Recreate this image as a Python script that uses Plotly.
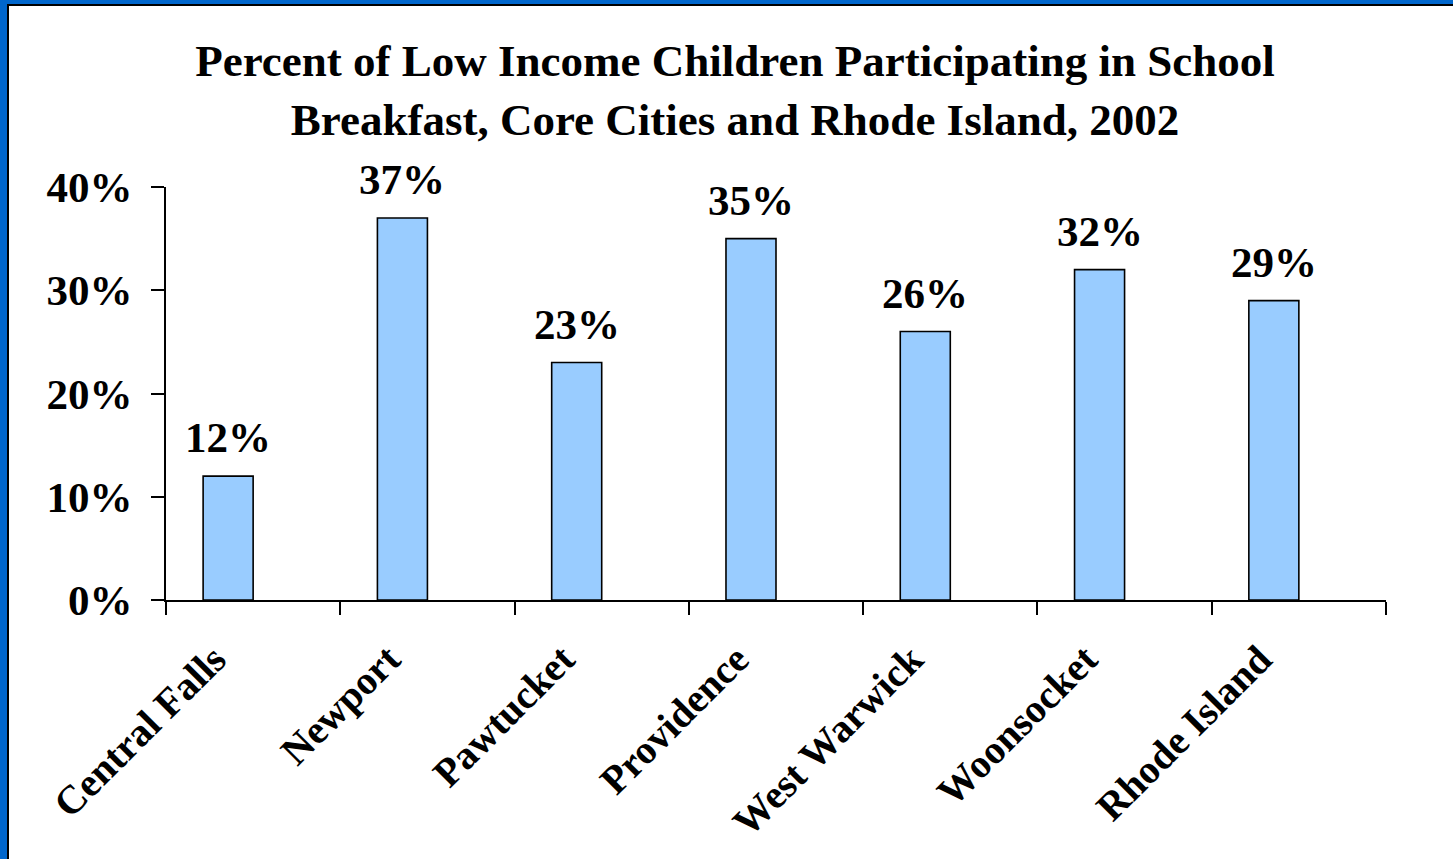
import plotly.graph_objects as go

categories = ["Central Falls", "Newport", "Pawtucket", "Providence", "West Warwick", "Woonsocket", "Rhode Island"]
values = [12, 37, 23, 35, 26, 32, 29]
y_ticks = [0, 10, 20, 30, 40]
y_tick_labels = ["0%", "10%", "20%", "30%", "40%"]
title_text = "Percent of Low Income Children Participating in School<br>Breakfast, Core Cities and Rhode Island, 2002"

W, H = 1453, 859
L, R, T, B = 166, 1386, 187, 600
FONT = "Liberation Serif"
BAR_W = 0.287

def px(x):
    return (x - L) / (R - L)

def py(y):
    return (B - y) / (B - T)

fig = go.Figure()
fig.add_trace(go.Bar(
    x=categories, y=values,
    width=BAR_W, offset=-BAR_W,
    marker=dict(color="#99CCFF", line=dict(color="black", width=1.6)),
    cliponaxis=False,
))

cat_px = (R - L) / len(categories)
annotations = [
    dict(x=c, y=v, xref="x", yref="y", text=f"{v}%", showarrow=False,
         xanchor="center", yanchor="bottom", xshift=-BAR_W * cat_px / 2, yshift=13,
         font=dict(family=FONT, size=43, color="black", weight="bold"))
    for c, v in zip(categories, values)
]

shapes = [
    dict(type="rect", xref="paper", yref="paper", x0=px(0), x1=px(7), y0=py(H), y1=py(0),
         fillcolor="#0066CC", line=dict(width=0), layer="below"),
    dict(type="rect", xref="paper", yref="paper", x0=px(0), x1=px(W), y0=py(4), y1=py(0),
         fillcolor="#0066CC", line=dict(width=0), layer="below"),
    dict(type="rect", xref="paper", yref="paper", x0=px(7), x1=px(9), y0=py(H), y1=py(4),
         fillcolor="black", line=dict(width=0), layer="below"),
    dict(type="rect", xref="paper", yref="paper", x0=px(7), x1=px(W), y0=py(6), y1=py(4),
         fillcolor="black", line=dict(width=0), layer="below"),
]

fig.update_layout(
    width=W, height=H,
    margin=dict(l=L, r=W - R, t=T, b=H - B, pad=0),
    paper_bgcolor="white", plot_bgcolor="white",
    showlegend=False,
    shapes=shapes,
    annotations=annotations,
    title=dict(text=title_text, x=735 / W, xanchor="center", y=1 - 76 / H, yanchor="middle",
               font=dict(family=FONT, size=45, color="black", weight="bold")),
    xaxis=dict(
        type="category", range=[-0.5, 6.5],
        showline=True, linecolor="black", linewidth=1.6,
        ticks="outside", tickson="boundaries", ticklen=13, tickwidth=1.6, tickcolor="black",
        tickangle=-45, tickfont=dict(family=FONT, size=40, color="black", weight="bold"),
        ticklabelshift=-39, ticklabelstandoff=18,
        showgrid=False, zeroline=False, fixedrange=True,
    ),
    yaxis=dict(
        range=[0, 40], tickvals=y_ticks, ticktext=y_tick_labels,
        showline=True, linecolor="black", linewidth=1.6,
        ticks="outside", ticklen=13, tickwidth=1.6, tickcolor="black",
        tickfont=dict(family=FONT, size=43, color="black", weight="bold"),
        ticklabelstandoff=10,
        showgrid=False, zeroline=False, fixedrange=True,
    ),
)

fig.write_html("out.html", config={"displayModeBar": False},
               post_script="document.body.style.margin='0';document.body.style.overflow='hidden';")
